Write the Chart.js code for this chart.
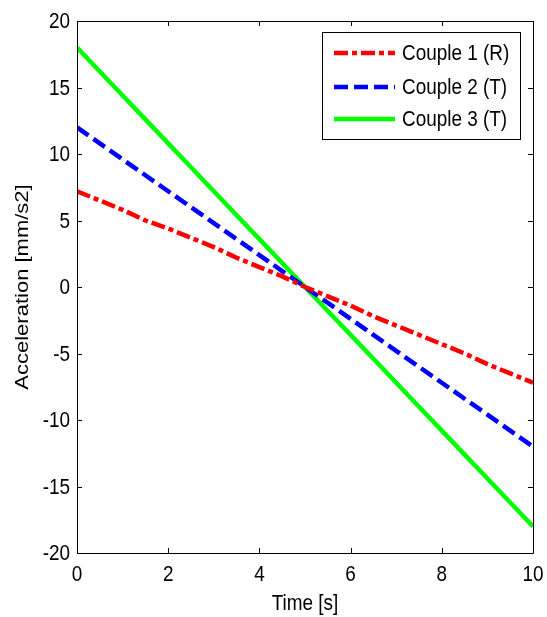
<!DOCTYPE html>
<html>
<head>
<meta charset="utf-8">
<script src="https://cdn.jsdelivr.net/npm/chart.js@4"></script>
<style>
html,body{margin:0;padding:0;background:#fff;}
#wrap{width:547px;height:617px;position:relative;}
</style>
</head>
<body>
<div id="wrap"><canvas id="c" width="547" height="617"></canvas></div>
<script>
const timeValues = [0,0.5,1,1.5,2,2.5,3,3.5,4,4.5,5,5.5,6,6.5,7,7.5,8,8.5,9,9.5,10];
const couple1 = [7.2,6.5,5.8,5.0,4.4,3.7,3.0,2.2,1.5,0.8,0.0,-0.7,-1.4,-2.2,-2.9,-3.6,-4.3,-5.0,-5.8,-6.5,-7.2];
const couple2 = [12,10.8,9.6,8.4,7.2,6.0,4.8,3.6,2.4,1.2,0,-1.2,-2.4,-3.6,-4.8,-6.0,-7.2,-8.4,-9.6,-10.8,-12];
const couple3 = [18,16.2,14.4,12.6,10.8,9.0,7.2,5.4,3.6,1.8,0,-1.8,-3.6,-5.4,-7.2,-9.0,-10.8,-12.6,-14.4,-16.2,-18];
const seriesLabels = ["Couple 1 (R)","Couple 2 (T)","Couple 3 (T)"];
const xTicks = [0,2,4,6,8,10];
const yTicks = [-20,-15,-10,-5,0,5,10,15,20];
const xTitle = "Time [s]";
const yTitle = "Acceleration [mm/s2]";

const FONT = '"Liberation Sans", Arial, Helvetica, sans-serif';
const SQ = 0.86; // horizontal squeeze of the original figure
const toXY = (arr) => arr.map((v,i)=>({x:timeValues[i], y:v}));

function drawText(ctx, text, x, y, align, rotated){
  ctx.save();
  ctx.translate(x, y);
  if (rotated) { ctx.rotate(-Math.PI/2); ctx.scale(1, SQ); }
  else ctx.scale(SQ, 1);
  ctx.font = '22px ' + FONT;
  ctx.fillStyle = '#000';
  ctx.textAlign = align;
  ctx.textBaseline = 'middle';
  ctx.fillText(text, 0, 0);
  ctx.restore();
}

const boxPlugin = {
  id:'box',
  afterDatasetsDraw(chart){
    const ctx = chart.ctx, a = chart.chartArea;
    const xs = chart.scales.x, ys = chart.scales.y;
    ctx.save();
    ctx.strokeStyle = '#000';
    ctx.lineWidth = 1;
    ctx.beginPath();
    ctx.rect(Math.round(a.left)+0.5, Math.round(a.top)+0.5, Math.round(a.right-a.left), Math.round(a.bottom-a.top));
    ctx.stroke();
    const tl = 5;
    ctx.beginPath();
    xTicks.forEach(t=>{
      const px = Math.round(xs.getPixelForValue(t))+0.5;
      ctx.moveTo(px,a.bottom); ctx.lineTo(px,a.bottom-tl);
      ctx.moveTo(px,a.top); ctx.lineTo(px,a.top+tl);
    });
    yTicks.forEach(t=>{
      const py = Math.round(ys.getPixelForValue(t))+0.5;
      ctx.moveTo(a.left,py); ctx.lineTo(a.left+tl,py);
      ctx.moveTo(a.right,py); ctx.lineTo(a.right-tl,py);
    });
    ctx.stroke();

    // tick labels
    xTicks.forEach(t=>{
      drawText(ctx, String(t), xs.getPixelForValue(t), a.bottom + 22, 'center', false);
    });
    yTicks.forEach(t=>{
      drawText(ctx, String(t), a.left - 7, ys.getPixelForValue(t) + 1, 'right', false);
    });
    // axis titles
    drawText(ctx, xTitle, (a.left+a.right)/2, 604, 'center', false);
    drawText(ctx, yTitle, 23, (a.top+a.bottom)/2, 'center', true);

    // legend
    const lx = 322.5, ly = 32.5, lw = 198, lh = 107;
    ctx.fillStyle = '#fff';
    ctx.fillRect(lx,ly,lw,lh);
    ctx.strokeStyle = '#000';
    ctx.lineWidth = 1;
    ctx.strokeRect(lx,ly,lw,lh);
    const rows = [53,87,119];
    chart.data.datasets.forEach((ds,i)=>{
      const y = rows[i];
      ctx.save();
      ctx.strokeStyle = ds.borderColor;
      ctx.lineWidth = ds.borderWidth;
      ctx.setLineDash(ds.borderDash || []);
      ctx.beginPath();
      ctx.moveTo(334,y); ctx.lineTo(395,y);
      ctx.stroke();
      ctx.restore();
      drawText(ctx, ds.label, 402, y+1, 'left', false);
    });
    ctx.restore();
  }
};

new Chart(document.getElementById('c'), {
  type:'line',
  data:{
    datasets:[
      {label:seriesLabels[0], data:toXY(couple1), borderColor:'#ff0000', borderWidth:4.5, borderDash:[14,4,5,4], pointRadius:0, fill:false, tension:0},
      {label:seriesLabels[1], data:toXY(couple2), borderColor:'#0000ff', borderWidth:4.5, borderDash:[14,6], pointRadius:0, fill:false, tension:0},
      {label:seriesLabels[2], data:toXY(couple3), borderColor:'#00ff00', borderWidth:4.5, pointRadius:0, fill:false, tension:0}
    ]
  },
  options:{
    responsive:false,
    animation:false,
    devicePixelRatio:1,
    layout:{padding:{left:0,right:14,top:21,bottom:0}},
    plugins:{legend:{display:false}, tooltip:{enabled:false}},
    scales:{
      x:{
        type:'linear', min:0, max:10,
        afterBuildTicks(s){ s.ticks = xTicks.map(v=>({value:v})); },
        afterFit(s){ s.height = 617-553; },
        grid:{display:false, drawTicks:false},
        border:{display:false},
        ticks:{display:false},
        title:{display:false}
      },
      y:{
        type:'linear', min:-20, max:20,
        afterBuildTicks(s){ s.ticks = yTicks.map(v=>({value:v})); },
        afterFit(s){ s.width = 77; },
        grid:{display:false, drawTicks:false},
        border:{display:false},
        ticks:{display:false},
        title:{display:false}
      }
    }
  },
  plugins:[boxPlugin]
});
</script>
</body>
</html>
